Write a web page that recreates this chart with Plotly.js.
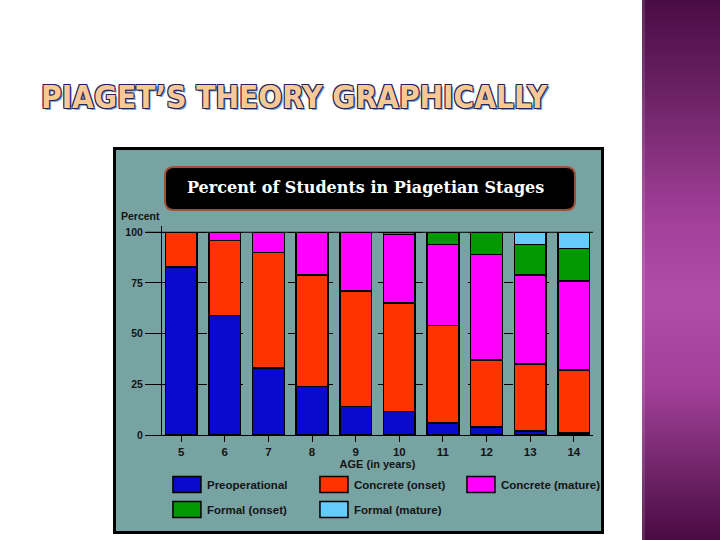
<!DOCTYPE html>
<html>
<head>
<meta charset="utf-8">
<script src="https://cdn.plot.ly/plotly-3.0.1.min.js"></script>
<style>
  html, body { margin: 0; padding: 0; background: #ffffff; }
  #wrap { position: relative; width: 720px; height: 540px; overflow: hidden; background: #ffffff; }
  #band { position: absolute; left: 642px; top: 0; width: 78px; height: 540px;
          background: linear-gradient(to bottom, #4a0c44 0%, #6d2366 18%, #a13f98 40%, #b24cab 55%, #a13f98 72%, #6d2366 88%, #4a0a42 100%); }
  #band:before { content: ""; position: absolute; left: 0; top: 0; width: 3px; height: 100%; background: rgba(255,255,255,0.12); }
  #chart { position: absolute; left: 0; top: 0; width: 720px; height: 540px; }
</style>
</head>
<body>
<div id="wrap">
  <div id="band"></div>
  <div id="chart"></div>
</div>
<script>
// ---- data ----
const ages = [5, 6, 7, 8, 9, 10, 11, 12, 13, 14];
const ageLabels = ["5", "6", "7", "8", "9", "10", "11", "12", "13", "14"];
const preoperational = [83, 59, 33, 24, 14, 11.5, 6, 4, 2, 1];
const concreteOnset  = [17, 37, 57, 55, 57, 53.5, 48, 33, 33, 31];
const concreteMature = [0, 4, 10, 21, 29, 34, 40, 52, 44, 44];
const formalOnset    = [0, 0, 0, 0, 0, 1, 6, 11, 15, 16];
const formalMature   = [0, 0, 0, 0, 0, 0, 0, 0, 6, 8];
const seriesNames = ["Preoperational", "Concrete (onset)", "Concrete (mature)", "Formal (onset)", "Formal (mature)"];
const yTicks = [0, 25, 50, 75, 100];

// ---- layout geometry (pixels) ----
const W = 720, H = 540;
const M = { l: 162, r: 127, t: 226, b: 105 };
const pw = W - M.l - M.r, ph = H - M.t - M.b;
const px = x => (x - M.l) / pw;
const py = y => (H - M.b - y) / ph;

const colors = ["#0a0acf", "#ff3300", "#ff00ff", "#009a00", "#66ccff"];
const seriesValues = [preoperational, concreteOnset, concreteMature, formalOnset, formalMature];
const legendOf = ["legend", "legend", "legend", "legend2", "legend2"];

const traces = seriesValues.map((vals, i) => ({
  type: "bar",
  x: ages,
  y: vals,
  name: seriesNames[i],
  legend: legendOf[i],
  marker: { color: colors[i], line: { color: "#000000", width: 1.5 } },
  hoverinfo: "skip"
}));

function roundRect(x0, y0, x1, y1, r) {
  const X0 = px(x0), X1 = px(x1), Y0 = py(y0), Y1 = py(y1);
  const rx = r / pw, ry = r / ph;
  return `M${X0 + rx},${Y0} L${X1 - rx},${Y0} Q${X1},${Y0} ${X1},${Y0 - ry} L${X1},${Y1 + ry} Q${X1},${Y1} ${X1 - rx},${Y1} L${X0 + rx},${Y1} Q${X0},${Y1} ${X0},${Y1 + ry} L${X0},${Y0 - ry} Q${X0},${Y0} ${X0 + rx},${Y0} Z`;
}

const sans = "Liberation Sans, Arial, sans-serif";
const ink = "#141414";
const legendFont = { family: sans, size: 11.5, color: ink, weight: "bold" };

const layout = {
  width: W, height: H,
  margin: M,
  paper_bgcolor: "rgba(0,0,0,0)",
  plot_bgcolor: "rgba(0,0,0,0)",
  barmode: "stack",
  bargap: 0.27,
  showlegend: true,
  title: {
    text: "PIAGET’S THEORY GRAPHICALLY",
    xref: "container", yref: "container",
    x: 41 / W, xanchor: "left",
    y: 1 - 97 / H, yanchor: "middle",
    font: {
      family: "Liberation Sans Narrow, DejaVu Sans Condensed, sans-serif",
      size: 31.3, weight: "bold", color: "#f7c898",
      shadow: "-1px -1px 0 #23255a, 1px -1px 0 #23255a, -1px 1px 0 #23255a, 1px 1px 0 #23255a, 2px 2px 0 #7fa6dc"
    }
  },
  xaxis: {
    range: [4.56, 14.44],
    tickvals: ages, ticktext: ageLabels,
    ticks: "outside", ticklen: 6, tickcolor: "#000", tickwidth: 1,
    showline: true, linecolor: "#000", linewidth: 1,
    showgrid: false, zeroline: false,
    tickfont: { family: sans, size: 11.5, color: ink, weight: "bold" },
    title: { text: "AGE (in years)", standoff: 3,
             font: { family: sans, size: 11, color: ink, weight: "bold" } },
    fixedrange: true
  },
  yaxis: {
    range: [0, 103.1],
    tickvals: yTicks,
    ticks: "outside", ticklen: 16, tickcolor: "#000", tickwidth: 1,
    showline: true, linecolor: "#000", linewidth: 1,
    showgrid: true, gridcolor: "#000", griddash: "dash", gridwidth: 1,
    zeroline: false,
    tickfont: { family: sans, size: 10.5, color: ink, weight: "bold" },
    fixedrange: true
  },
  legend: {
    orientation: "h", x: -0.0001, xanchor: "left", y: py(470), yanchor: "top",
    entrywidth: 97, indentation: 5, bgcolor: "rgba(0,0,0,0)", borderwidth: 0,
    font: legendFont, traceorder: "normal"
  },
  legend2: {
    orientation: "h", x: -0.0001, xanchor: "left", y: py(495), yanchor: "top",
    entrywidth: 97, indentation: 5, bgcolor: "rgba(0,0,0,0)", borderwidth: 0,
    font: legendFont, traceorder: "normal"
  },
  shapes: [
    { type: "rect", xref: "paper", yref: "paper", layer: "below",
      x0: px(114.5), x1: px(602.5), y0: py(532.5), y1: py(148.5),
      fillcolor: "#77a3a3", line: { color: "#000", width: 3 } },
    { type: "path", xref: "paper", yref: "paper", layer: "below",
      path: roundRect(165, 167, 575, 210, 9),
      fillcolor: "#000000", line: { color: "#a24e35", width: 2 } },
    { type: "line", xref: "paper", yref: "y", layer: "below",
      x0: px(145), x1: 1, y0: 100, y1: 100, line: { color: "#000", width: 1 } }
  ],
  annotations: [
    { text: "Percent of Students in Piagetian Stages", xref: "paper", yref: "paper",
      x: px(365.5), y: py(187), xanchor: "center", yanchor: "middle", showarrow: false,
      font: { family: "DejaVu Serif, Liberation Serif, serif", size: 16, color: "#ffffff", weight: "bold" } },
    { text: "Percent", xref: "paper", yref: "paper",
      x: px(119), y: py(216), xanchor: "left", yanchor: "middle", showarrow: false,
      font: { family: sans, size: 10.5, color: ink, weight: "bold" } }
  ]
};

Plotly.newPlot("chart", traces, layout, { staticPlot: true, displayModeBar: false }).then(gd => {
  // enlarge the legend swatches to the wide boxes of the original
  gd.querySelectorAll(".legendpoints path").forEach(p => p.setAttribute("d", "M14,8H-14V-8H14Z"));
});
</script>
</body>
</html>
